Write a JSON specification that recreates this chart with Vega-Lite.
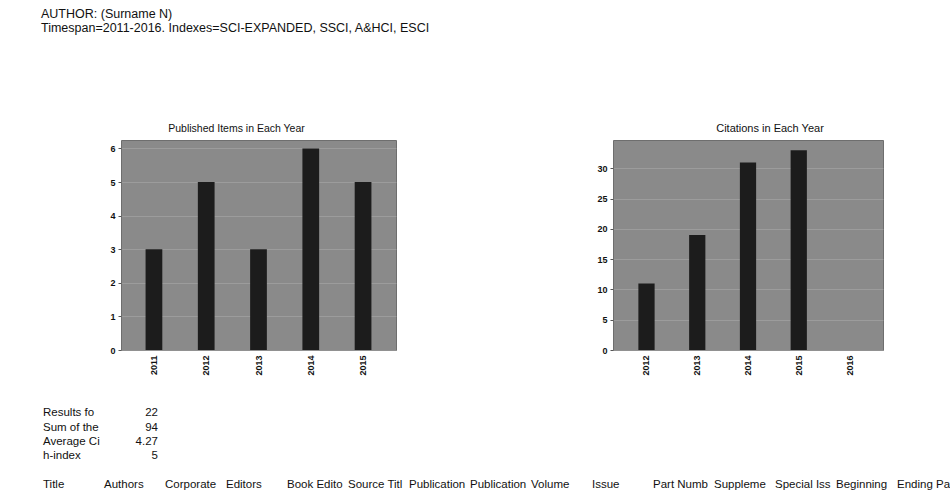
{
  "$schema": "https://vega.github.io/schema/vega-lite/v6.json",
  "background": "white",
  "padding": {"left": 38, "top": 7, "right": 0, "bottom": 0},
  "config": {
    "font": "Liberation Sans",
    "view": {"stroke": null},
    "title": {"color": "#111", "fontWeight": "normal"},
    "axis": {"labelColor": "#111", "titleColor": "#111"}
  },
  "title": {
    "text": ["AUTHOR: (Surname N)", "Timespan=2011-2016. Indexes=SCI-EXPANDED, SSCI, A&HCI, ESCI"],
    "anchor": "start",
    "frame": "group",
    "fontSize": 12.5,
    "lineHeight": 14.5,
    "dx": -80,
    "offset": 88
  },
  "datasets": {
    "published": [
      {"year": "2011", "items": 3},
      {"year": "2012", "items": 5},
      {"year": "2013", "items": 3},
      {"year": "2014", "items": 6},
      {"year": "2015", "items": 5}
    ],
    "citations": [
      {"year": "2012", "cites": 11},
      {"year": "2013", "cites": 19},
      {"year": "2014", "cites": 31},
      {"year": "2015", "cites": 33},
      {"year": "2016", "cites": 0}
    ],
    "sheet": [
      {"row": "23", "col": "A", "text": "Results found", "kind": "label"},
      {"row": "23", "col": "B", "text": "22", "kind": "value"},
      {"row": "24", "col": "A", "text": "Sum of the Times Cited", "kind": "label"},
      {"row": "24", "col": "B", "text": "94", "kind": "value"},
      {"row": "25", "col": "A", "text": "Average Citations per Item", "kind": "label"},
      {"row": "25", "col": "B", "text": "4.27", "kind": "value"},
      {"row": "26", "col": "A", "text": "h-index", "kind": "label"},
      {"row": "26", "col": "B", "text": "5", "kind": "value"},
      {"row": "28", "col": "A", "text": "Title", "kind": "label"},
      {"row": "28", "col": "B", "text": "Authors", "kind": "label"},
      {"row": "28", "col": "C", "text": "Corporate Authors", "kind": "label"},
      {"row": "28", "col": "D", "text": "Editors", "kind": "label"},
      {"row": "28", "col": "E", "text": "Book Editors", "kind": "label"},
      {"row": "28", "col": "F", "text": "Source Title", "kind": "label"},
      {"row": "28", "col": "G", "text": "Publication Date", "kind": "label"},
      {"row": "28", "col": "H", "text": "Publication Year", "kind": "label"},
      {"row": "28", "col": "I", "text": "Volume", "kind": "label"},
      {"row": "28", "col": "J", "text": "Issue", "kind": "label"},
      {"row": "28", "col": "K", "text": "Part Number", "kind": "label"},
      {"row": "28", "col": "L", "text": "Supplement", "kind": "label"},
      {"row": "28", "col": "M", "text": "Special Issue", "kind": "label"},
      {"row": "28", "col": "N", "text": "Beginning Page", "kind": "label"},
      {"row": "28", "col": "O", "text": "Ending Page", "kind": "label"}
    ]
  },
  "vconcat": [
    {
      "hconcat": [
        {
          "width": 275,
          "height": 210,
          "title": {"text": "Published Items in Each Year", "fontSize": 10.5, "offset": 6, "dx": -22},
          "data": {"name": "published"},
          "mark": {"type": "bar", "color": "#1c1c1c"},
          "encoding": {
            "x": {
              "field": "year", "type": "ordinal",
              "scale": {"paddingInner": 0.68, "paddingOuter": 0.47},
              "axis": {"title": null, "labelAngle": -90, "labelFontWeight": "bold", "labelFontSize": 9, "ticks": false, "domain": false, "labelPadding": 5}
            },
            "y": {
              "field": "items", "type": "quantitative",
              "scale": {"domain": [0, 6.25], "nice": false},
              "axis": {"title": null, "values": [0, 1, 2, 3, 4, 5, 6], "labelFontWeight": "bold", "labelFontSize": 9, "tickSize": 3, "tickColor": "#555", "domain": false, "gridColor": "#a8a8a8", "gridOpacity": 0.6, "labelPadding": 3, "minExtent": 82, "maxExtent": 82}
            }
          },
          "view": {"fill": "#8a8a8a", "stroke": "#6e6e6e"}
        },
        {
          "width": 270,
          "height": 210,
          "title": {"text": "Citations in Each Year", "fontSize": 11, "offset": 6, "dx": 22},
          "data": {"name": "citations"},
          "mark": {"type": "bar", "color": "#1c1c1c"},
          "encoding": {
            "x": {
              "field": "year", "type": "ordinal",
              "scale": {"paddingInner": 0.68, "paddingOuter": 0.5},
              "axis": {"title": null, "labelAngle": -90, "labelFontWeight": "bold", "labelFontSize": 9, "ticks": false, "domain": false, "labelPadding": 5}
            },
            "y": {
              "field": "cites", "type": "quantitative",
              "scale": {"domain": [0, 34.7], "nice": false},
              "axis": {"title": null, "values": [0, 5, 10, 15, 20, 25, 30], "labelFontWeight": "bold", "labelFontSize": 9, "tickSize": 3, "tickColor": "#555", "domain": false, "gridColor": "#a8a8a8", "gridOpacity": 0.6, "labelPadding": 3, "minExtent": 25, "maxExtent": 25}
            }
          },
          "view": {"fill": "#8a8a8a", "stroke": "#6e6e6e"}
        }
      ],
      "spacing": 190
    },
    {
      "width": 833,
      "height": 86,
      "data": {"name": "sheet"},
      "encoding": {
        "y": {
          "field": "row", "type": "ordinal",
          "scale": {"domain": ["23", "24", "25", "26", "27", "28"], "paddingInner": 0, "paddingOuter": 0},
          "axis": null
        }
      },
      "layer": [
        {
          "transform": [{"filter": "datum.kind === 'label'"}],
          "mark": {"type": "text", "align": "left", "baseline": "middle", "fontSize": 11.5, "color": "#111", "dx": -26.5, "limit": 60, "ellipsis": " "},
          "encoding": {
            "x": {
              "field": "col", "type": "nominal",
              "scale": {"domain": ["A","B","C","D","E","F","G","H","I","J","K","L","M","N","O"], "range": [-82, 833], "paddingInner": 0, "paddingOuter": 0},
              "axis": null
            },
            "text": {"field": "text"}
          }
        },
        {
          "transform": [{"filter": "datum.kind === 'value'"}],
          "mark": {"type": "text", "align": "right", "baseline": "middle", "fontSize": 11.5, "color": "#111", "dx": 27.5},
          "encoding": {
            "x": {
              "field": "col", "type": "nominal",
              "scale": {"domain": ["A","B","C","D","E","F","G","H","I","J","K","L","M","N","O"], "range": [-82, 833], "paddingInner": 0, "paddingOuter": 0},
              "axis": null
            },
            "text": {"field": "text"}
          }
        }
      ]
    }
  ],
  "spacing": 30
}
